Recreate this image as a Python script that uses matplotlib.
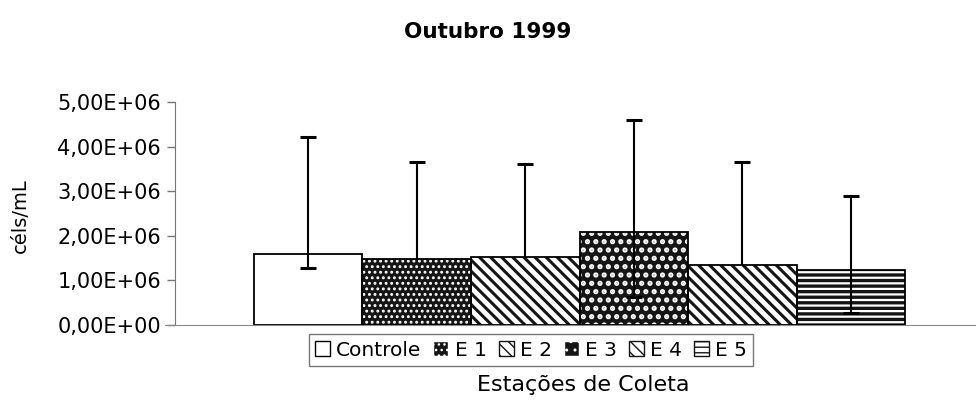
import matplotlib
matplotlib.use("Agg")
import matplotlib.pyplot as plt
from matplotlib.patches import Patch
from matplotlib.ticker import FuncFormatter

plt.rcParams['font.family'] = ['DejaVu Sans']

# Densidade celular (céls/mL) por estação - Outubro 1999
estacoes = ["Controle", "E 1", "E 2", "E 3", "E 4", "E 5"]
media = [1.59e6, 1.49e6, 1.53e6, 2.08e6, 1.35e6, 1.23e6]
limite_sup = [4.22e6, 3.65e6, 3.60e6, 4.60e6, 3.66e6, 2.89e6]
limite_inf = [1.28e6, 1.49e6, 1.53e6, 0.63e6, 1.35e6, 0.27e6]
yticks = [0, 1e6, 2e6, 3e6, 4e6, 5e6]

# fill colour, hatch colour, hatch pattern, hatch line width for each station
estilos = [
    ("white", "white", "", 1.0),
    ("#151515", "white", "...", 1.3),
    ("white", "#151515", "\\\\\\", 2.2),
    ("#151515", "white", "..", 2.5),
    ("white", "#151515", "\\\\\\", 2.2),
    ("white", "#151515", "---", 2.4),
]


def hachurado(artist, lw):
    if hasattr(artist, "set_hatch_linewidth"):
        artist.set_hatch_linewidth(lw)


fig = plt.figure(figsize=(9.76, 4.13), dpi=100)
ax = fig.add_axes([175 / 976, 1 - 325 / 413, 800 / 976, (325 - 102) / 413])

pos = list(range(len(estacoes)))
for i, (fc, hc, hatch, hlw) in enumerate(estilos):
    with plt.rc_context({"hatch.linewidth": hlw}):
        barra = ax.bar(pos[i], media[i], width=1.0, facecolor=fc, edgecolor=hc,
                       linewidth=0, hatch=hatch, zorder=2)
        for b in barra:
            hachurado(b, hlw)
    ax.bar(pos[i], media[i], width=1.0, fill=False, edgecolor="black",
           linewidth=1.3, zorder=3)

# error bars: stems, upper caps, and lower caps where the lower limit sits below the mean
cap = 0.075
ax.vlines(pos, limite_inf, limite_sup, colors="black", linewidth=1.5, zorder=4)
ax.hlines(limite_sup, [p - cap for p in pos], [p + cap for p in pos],
          colors="black", linewidth=2.2, zorder=4)
baixo = [i for i in pos if limite_inf[i] < media[i]]
ax.hlines([limite_inf[i] for i in baixo], [i - cap for i in baixo],
          [i + cap for i in baixo], colors="black", linewidth=2.2, zorder=4)

ax.set_xlim(-1.228, 6.145)
ax.set_ylim(0, 5e6)
ax.set_yticks(yticks)
ax.yaxis.set_major_formatter(FuncFormatter(lambda v, p: f"{v:.2E}".replace(".", ",")))
ax.set_xticks([])
ax.tick_params(axis="y", direction="out", length=6, width=1, color="#777777",
               labelsize=15, pad=4)
for s in ("top", "right"):
    ax.spines[s].set_visible(False)
ax.spines["left"].set_color("#777777")
ax.spines["bottom"].set_color("#888888")
ax.spines["bottom"].set_bounds(-1.32, 6.145)

ax.set_ylabel("céls/mL", fontsize=14)
ax.yaxis.set_label_coords(-0.181, 0.49)

fig.text(0.5, 1 - 32 / 413, "Outubro 1999", ha="center", va="center",
         fontsize=15.5, fontweight="bold")
fig.text(583 / 976, 1 - 385 / 413, "Estações de Coleta", ha="center",
         va="center", fontsize=16)

handles = []
for (fc, hc, hatch, hlw), nome in zip(estilos, estacoes):
    with plt.rc_context({"hatch.linewidth": min(hlw, 1.2)}):
        h = Patch(facecolor=fc, edgecolor="black" if not hatch else hc,
                  hatch=hatch, linewidth=1.0, label=nome)
        hachurado(h, min(hlw, 1.2))
    handles.append(h)
leg = fig.legend(handles=handles, loc="center", ncol=6,
                 bbox_to_anchor=(531 / 976, 1 - 350 / 413),
                 fontsize=14.5, frameon=True, fancybox=False,
                 handlelength=0.75, handleheight=0.75, handletextpad=0.3,
                 columnspacing=0.6, borderpad=0.3)
leg.get_frame().set_edgecolor("#555555")
leg.get_frame().set_linewidth(1.0)

fig.savefig("out.png", dpi=100)
